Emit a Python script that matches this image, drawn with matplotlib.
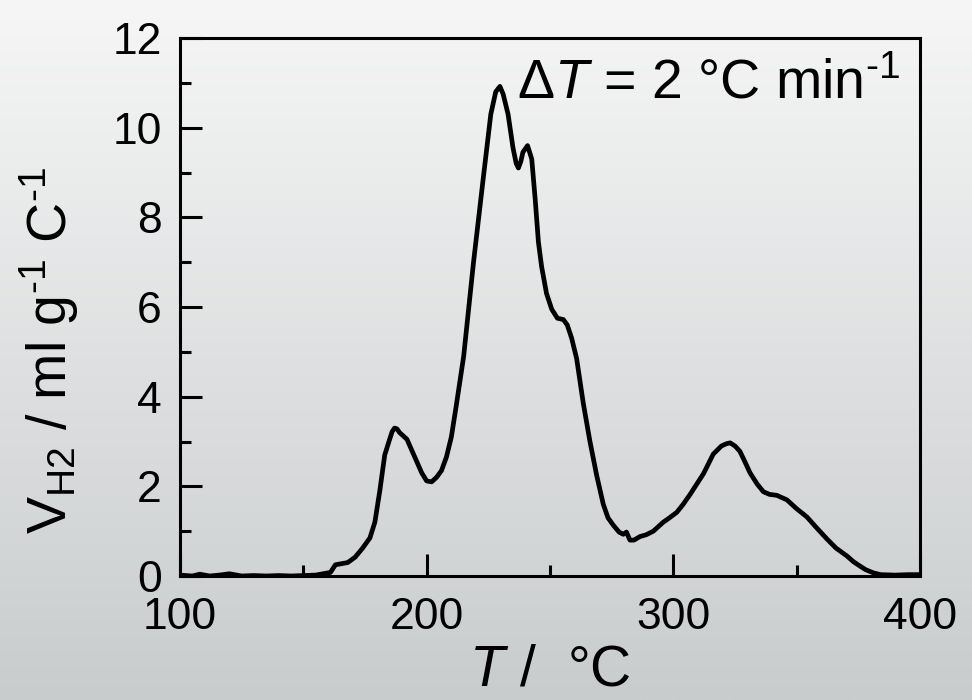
import matplotlib
matplotlib.use('Agg')
import matplotlib.pyplot as plt
import numpy as np
from matplotlib.colors import LinearSegmentedColormap
from matplotlib.ticker import MultipleLocator

plt.rcParams['font.family'] = ['Liberation Sans', 'DejaVu Sans']
plt.rcParams['mathtext.fontset'] = 'custom'
plt.rcParams['mathtext.rm'] = 'Liberation Sans'
plt.rcParams['mathtext.it'] = 'Liberation Sans:italic'

# H2 evolution profile
temperature = [100, 105, 108, 112, 116, 120, 125, 130, 135, 140, 145, 150, 155, 158, 161,
               163, 165, 168, 171, 174, 177, 179, 181, 183, 185, 186, 187, 188, 189, 192, 194,
               196, 198, 200, 202, 204, 206, 208, 210, 212, 215, 219, 223, 226, 228, 229.7,
               231, 233, 235, 236.3, 237.2, 238.2, 239, 240.9, 242.6, 244, 245.3, 246.6,
               248.6, 250.7, 253, 255.4, 257, 258.8, 260.8, 263.5, 266.2, 268.9, 271.6,
               273.5, 275.7, 278, 279.7, 281, 282.4, 284, 286.5, 289, 291.9, 295.9, 298,
               301.4, 304, 306.8, 309.5, 312.2, 316.2, 319.5, 321.5, 323, 325, 327, 329,
               331.1, 334, 336.5, 339, 341.9, 346, 350, 354.1, 358, 362.2, 366, 370.3, 373,
               375.7, 378, 381.1, 384, 390, 395, 400]
v_h2 = [0.02, 0.0, 0.04, 0.0, 0.02, 0.05, 0.0, 0.01, 0.0, 0.01, 0.0, 0.01, 0.02, 0.05, 0.08,
        0.25, 0.27, 0.3, 0.42, 0.62, 0.85, 1.2, 1.9, 2.7, 3.05, 3.22, 3.3, 3.28, 3.2, 3.05, 2.8,
        2.55, 2.3, 2.12, 2.1, 2.2, 2.35, 2.65, 3.1, 3.8, 4.9, 7.0, 8.9, 10.3, 10.8, 10.92,
        10.75, 10.3, 9.55, 9.2, 9.1, 9.25, 9.45, 9.6, 9.3, 8.4, 7.45, 6.9,
        6.3, 5.95, 5.75, 5.72, 5.6, 5.3, 4.85, 3.85, 3.0, 2.25, 1.6,
        1.3, 1.13, 0.98, 0.93, 0.98, 0.8, 0.8, 0.88, 0.92, 1.0, 1.2, 1.28,
        1.42, 1.6, 1.82, 2.05, 2.28, 2.72, 2.9, 2.95, 2.97, 2.9, 2.78, 2.55,
        2.3, 2.05, 1.88, 1.82, 1.8, 1.7, 1.5, 1.32, 1.08, 0.83, 0.62, 0.45, 0.32,
        0.22, 0.14, 0.07, 0.03, 0.02, 0.03, 0.03]

x_ticks = [100, 200, 300, 400]
y_ticks = [0, 2, 4, 6, 8, 10, 12]

fig = plt.figure(figsize=(9.72, 7), dpi=100)

# grey gradient background
bg = fig.add_axes([0, 0, 1, 1], zorder=-1)
cmap = LinearSegmentedColormap.from_list('bg', ['#c9cccd', '#f6f6f6'])
grad = np.linspace(0, 1, 256).reshape(-1, 1)
bg.imshow(grad, aspect='auto', cmap=cmap, origin='lower', extent=[0, 1, 0, 1])
bg.axis('off')

ax = fig.add_axes([180 / 972, 1 - 576 / 700, 740 / 972, 538 / 700])
ax.set_facecolor('none')
ax.plot(temperature, v_h2, color='black', lw=3.4, solid_joinstyle='round')

ax.set_xlim(100, 400)
ax.set_ylim(0, 12)
ax.set_xticks(x_ticks)
ax.set_yticks(y_ticks)
ax.xaxis.set_minor_locator(MultipleLocator(50))
ax.yaxis.set_minor_locator(MultipleLocator(1))
ax.tick_params(which='both', direction='in', width=2.2, top=False, right=False)
ax.tick_params(which='major', length=16, labelsize=32)
ax.tick_params(axis='x', which='major', pad=15)
ax.tick_params(axis='y', which='major', pad=13)
ax.tick_params(which='minor', length=8)
for s in ax.spines.values():
    s.set_linewidth(2.2)

hy = '\u2010'
ax.set_xlabel(r'$T$ /  °C', fontsize=41)
ax.xaxis.set_label_coords(0.5, -0.125)
ax.set_ylabel(r'V$_{\mathrm{H2}}$ / ml g$^{' + hy + r'1}$ C$^{' + hy + r'1}$', fontsize=40)
ax.yaxis.set_label_coords(-0.134, 0.42)

ax.text(0.455, 0.888, r'$\Delta T$ = 2 °C min$^{' + hy + r'1}$', transform=ax.transAxes,
        fontsize=40, ha='left', va='baseline')

plt.savefig('out.png', dpi=100)
